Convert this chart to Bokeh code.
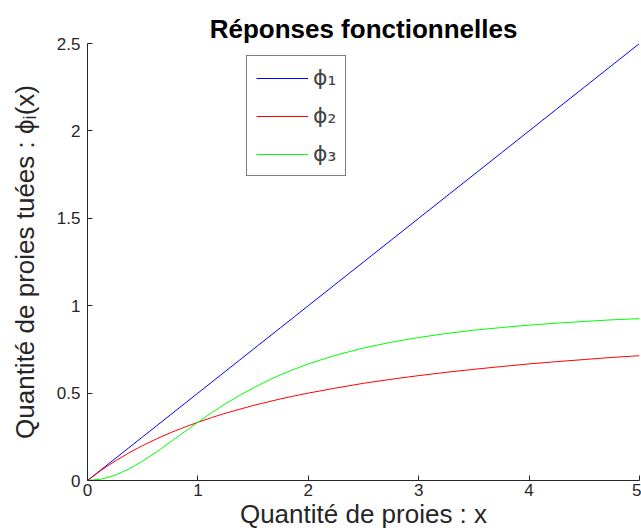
from bokeh.plotting import figure
from bokeh.models import Range1d, FixedTicker, Legend, LegendItem
from bokeh.embed import file_html
from bokeh.resources import INLINE

# Data
x_vals = [0, 0.125, 0.25, 0.375, 0.5, 0.625, 0.75, 0.875, 1, 1.125, 1.25, 1.375,
          1.5, 1.625, 1.75, 1.875, 2, 2.25, 2.5, 2.75, 3, 3.25,
          3.5, 3.75, 4, 4.25, 4.5, 4.75, 5]
phi1 = [0, 0.0625, 0.125, 0.1875, 0.25, 0.3125, 0.375, 0.4375, 0.5, 0.5625, 0.625,
        0.6875, 0.75, 0.8125, 0.875, 0.9375, 1.0, 1.125, 1.25, 1.375,
        1.5, 1.625, 1.75, 1.875, 2.0, 2.125, 2.25, 2.375, 2.5]
phi2 = [0, 0.059, 0.111, 0.158, 0.2, 0.238, 0.273, 0.304, 0.333, 0.36, 0.385, 0.407,
        0.429, 0.448, 0.467, 0.484, 0.5, 0.529, 0.556, 0.579,
        0.6, 0.619, 0.636, 0.652, 0.667, 0.68, 0.692, 0.704, 0.714]
phi3 = [0, 0.008, 0.03, 0.066, 0.111, 0.163, 0.22, 0.277, 0.333, 0.388, 0.439, 0.486,
        0.529, 0.569, 0.605, 0.637, 0.667, 0.717, 0.758, 0.791,
        0.818, 0.841, 0.86, 0.875, 0.889, 0.9, 0.91, 0.919, 0.926]
series_labels = ["ϕ₁", "ϕ₂", "ϕ₃"]
x_ticks = [0, 1, 2, 3, 4, 5]
x_tick_labels = ["0", "1", "2", "3", "4", "5"]
y_ticks = [0, 0.5, 1, 1.5, 2, 2.5]
y_tick_labels = ["0", "0.5", "1", "1.5", "2", "2.5"]
title_text = "Réponses fonctionnelles"
x_label = "Quantité de proies : x"
y_label = "Quantité de proies tuées : ϕᵢ(x)"

FONT = "Liberation Sans"
GREY = "#262626"

p = figure(width=641, height=531, x_range=Range1d(0, 5), y_range=Range1d(0, 2.5),
           output_backend="svg", toolbar_location=None,
           min_border_left=87, min_border_right=2, min_border_top=43, min_border_bottom=50)

p.title.text = title_text
p.title.align = "center"
p.title.text_font = FONT
p.title.text_font_size = "26px"
p.title.text_font_style = "bold"
p.title.text_color = "black"
p.title.standoff = 0

p.grid.visible = False
p.outline_line_color = None
p.background_fill_color = "white"
p.border_fill_color = "white"

for ax in (p.xaxis[0], p.yaxis[0]):
    ax.major_tick_in = 5
    ax.major_tick_out = 0
    ax.minor_tick_in = 0
    ax.minor_tick_out = 0
    ax.axis_line_color = GREY
    ax.major_tick_line_color = GREY
    ax.major_label_text_color = GREY
    ax.major_label_text_font = FONT
    ax.major_label_text_font_size = "17px"
    ax.axis_label_text_font = FONT
    ax.axis_label_text_font_size = "26px"
    ax.axis_label_text_font_style = "normal"
    ax.axis_label_text_color = GREY

p.xaxis.ticker = FixedTicker(ticks=x_ticks)
p.xaxis.major_label_overrides = {t: l for t, l in zip(x_ticks, x_tick_labels)}
p.yaxis.ticker = FixedTicker(ticks=y_ticks)
p.yaxis.major_label_overrides = {t: l for t, l in zip(y_ticks, y_tick_labels)}
p.xaxis.axis_label = x_label
p.yaxis.axis_label = y_label
p.xaxis.major_label_standoff = 3
p.xaxis.axis_label_standoff = 0
p.yaxis.major_label_standoff = 7
p.yaxis.axis_label_standoff = 14

r1 = p.line(x_vals, phi1, line_color="#0000ff", line_width=1)
r2 = p.line(x_vals, phi2, line_color="#ff0000", line_width=1)
r3 = p.line(x_vals, phi3, line_color="#00ff00", line_width=1)

legend = Legend(items=[LegendItem(label=series_labels[0], renderers=[r1]),
                       LegendItem(label=series_labels[1], renderers=[r2]),
                       LegendItem(label=series_labels[2], renderers=[r3])],
                location=(159, 304), margin=0, padding=9, spacing=13,
                glyph_width=52, glyph_height=24, label_height=24, label_standoff=5,
                label_text_font_size="22px", label_text_font="DejaVu Sans",
                border_line_color="black", border_line_width=1,
                background_fill_color="white", background_fill_alpha=1.0)
p.add_layout(legend)

open("out.html", "w").write(file_html(p, INLINE))
